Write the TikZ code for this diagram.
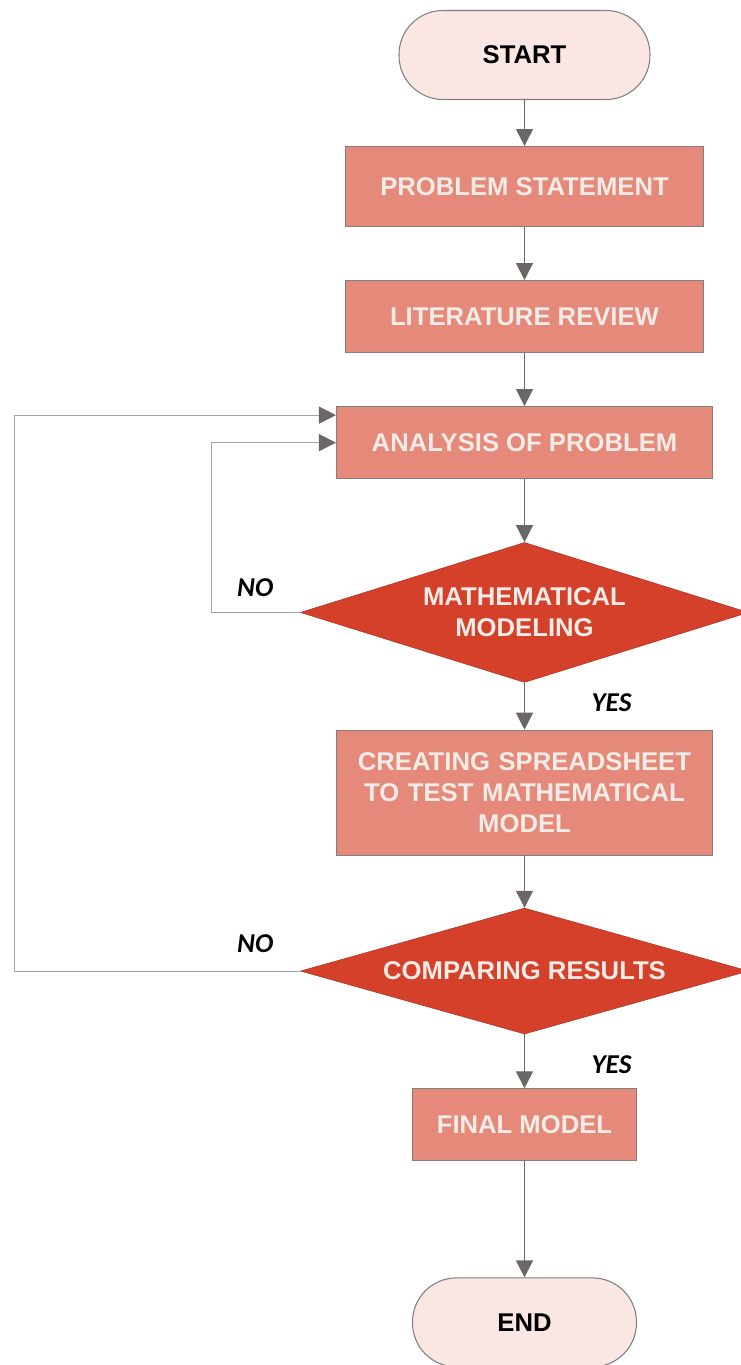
\documentclass[tikz,border=0pt]{standalone}
\usepackage{fontspec}
\setmainfont{Liberation Sans}
\newfontfamily\answerfont{Carlito}
\usepackage{tikz}
\usetikzlibrary{arrows.meta,positioning,shapes.geometric}
\definecolor{PaleRose}{RGB}{250,230,227}
\definecolor{Salmon}{RGB}{229,137,123}
\definecolor{BrickRed}{RGB}{212,64,42}
\definecolor{OffWhite}{RGB}{242,236,230}
\definecolor{EdgeGray}{RGB}{127,127,127}
\definecolor{ArrowGray}{RGB}{107,103,103}
\definecolor{LoopGray}{RGB}{165,165,165}
\tikzset{
  terminal/.style={rectangle,rounded corners=0.88cm,draw=EdgeGray,fill=PaleRose,
    line width=0.6pt,minimum width=5.02cm,minimum height=1.78cm,align=center,
    font=\fontsize{14.6}{17.5}\selectfont\bfseries,text=black},
  process/.style={rectangle,draw=EdgeGray,fill=Salmon,line width=0.6pt,
    minimum width=7.16cm,minimum height=1.44cm,align=center,
    font=\fontsize{14.6}{17.5}\selectfont\bfseries,text=OffWhite},
  decision/.style={diamond,fill=BrickRed,draw=BrickRed!80!black,line width=0.3pt,
    aspect=3.2,inner sep=0pt,minimum width=8.96cm,align=center,
    font=\fontsize{14.6}{17.5}\selectfont\bfseries,text=OffWhite},
  answer/.style={font=\answerfont\fontsize{15.5}{18}\selectfont\bfseries\itshape,text=black},
  arrow/.style={-{Triangle[length=0.34cm,width=0.34cm]},line width=0.75pt,ArrowGray},
  loopback/.style={-{Triangle[length=0.34cm,width=0.34cm,color=ArrowGray]},
    line width=0.6pt,LoopGray}
}

\begin{document}
\begin{tikzpicture}
  \useasboundingbox (-10.49,1.1) rectangle (4.33,-26.2);
  \node[terminal] (start) at (0,0) {START};
  \node[process,minimum height=1.6cm,below=0.92cm of start] (ps) {PROBLEM STATEMENT};
  \node[process,below=1.06cm of ps] (lr) {LITERATURE REVIEW};
  \node[process,minimum width=7.52cm,below=1.06cm of lr] (ap) {ANALYSIS OF PROBLEM};
  \node[decision,minimum height=2.8cm,below=1.26cm of ap] (mm) {MATHEMATICAL\\MODELING};
  \node[process,minimum width=7.52cm,minimum height=2.5cm,text width=7cm,below=0.94cm of mm] (cs)
    {CREATING SPREADSHEET\\TO TEST MATHEMATICAL\\MODEL};
  \node[decision,minimum height=2.52cm,below=1.04cm of cs] (cr) {COMPARING RESULTS};
  \node[process,minimum width=4.48cm,below=1.08cm of cr] (fm) {FINAL MODEL};
  \node[terminal,minimum width=4.48cm,below=2.32cm of fm] (end) {END};

  % labels
  \node[answer] (no1) at ([xshift=-0.9cm,yshift=0.5cm]mm.west) {NO};
  \node[answer] (yes1) at ([xshift=1.74cm,yshift=-0.4cm]mm.south) {YES};
  \node[answer] (no2) at ([xshift=-0.9cm,yshift=0.54cm]cr.west) {NO};
  \node[answer] (yes2) at ([xshift=1.74cm,yshift=-0.6cm]cr.south) {YES};

  \draw[arrow] (start) -- (ps);
  \draw[arrow] (ps) -- (lr);
  \draw[arrow] (lr) -- (ap);
  \draw[arrow] (ap) -- (mm);
  \draw[arrow] (mm) -- (cs);
  \draw[arrow] (cs) -- (cr);
  \draw[arrow] (cr) -- (fm);
  \draw[arrow] (fm) -- (end);

  % feedback loops
  \coordinate (apin) at ([yshift=-0.18cm]ap.north west);
  \draw[loopback] (mm.west) -- ++(-1.78,0) |- (ap.west);
  \draw[loopback] (cr.west) -- ++(-5.72,0) |- (apin);
\end{tikzpicture}
\end{document}
